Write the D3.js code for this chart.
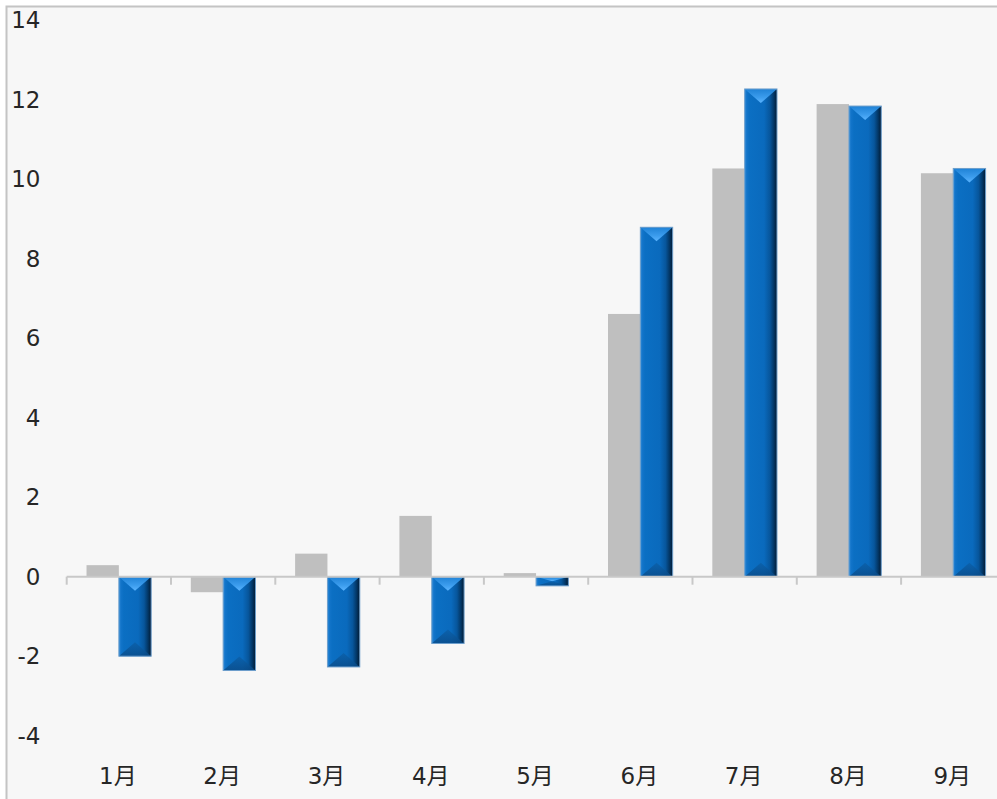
<!DOCTYPE html>
<html>
<head>
<meta charset="utf-8">
<script src="https://cdn.jsdelivr.net/npm/d3@7/dist/d3.min.js"></script>
<style>
  html, body { margin: 0; padding: 0; background: #ffffff; }
  svg { display: block; }
</style>
</head>
<body>
<div id="chart"></div>
<script>
// Monthly values for two series
const months = ["1月", "2月", "3月", "4月", "5月", "6月", "7月", "8月", "9月"];
const seriesGray = [0.29, -0.39, 0.58, 1.53, 0.09, 6.61, 10.27, 11.89, 10.15];
const seriesBlue = [-2.0, -2.36, -2.27, -1.68, -0.23, 8.79, 12.27, 11.84, 10.27];
const yTicks = [-4, -2, 0, 2, 4, 6, 8, 10, 12, 14];

const W = 997, H = 799;
const svg = d3.select("#chart").append("svg")
  .attr("width", W).attr("height", H);

// Chart frame (extends past the right and bottom edges)
svg.append("rect")
  .attr("x", 6.5).attr("y", 6.5)
  .attr("width", W + 20).attr("height", H + 20)
  .attr("fill", "#f7f7f7")
  .attr("stroke", "#c4c4c4")
  .attr("stroke-width", 2);

const y = d3.scaleLinear().domain([-4, 14]).range([735.7, 20.2]);
const x = d3.scaleBand().domain(months).range([66.7, 1005.4]).padding(0);

const bw = x.bandwidth();
const barW = bw * 0.31;
const groupOff = (bw - 2 * barW) / 2;

// Gradients for the bevelled blue bars
const defs = svg.append("defs");
const body = defs.append("linearGradient").attr("id", "blueBody")
  .attr("x1", 0).attr("x2", 1).attr("y1", 0).attr("y2", 0);
[[0, "#2f8ad8"], [0.07, "#1274c9"], [0.15, "#0b6fc3"], [0.6, "#0a6abd"],
 [0.78, "#07569c"], [0.9, "#033766"], [1, "#011a33"]]
  .forEach(([o, c]) => body.append("stop").attr("offset", o).attr("stop-color", c));

const topBev = defs.append("linearGradient").attr("id", "blueTop")
  .attr("x1", 0).attr("x2", 0).attr("y1", 0).attr("y2", 1);
[[0, "#1f82d6"], [0.6, "#3b9ced"], [1, "#5ab4ff"]]
  .forEach(([o, c]) => topBev.append("stop").attr("offset", o).attr("stop-color", c));

const botBev = defs.append("linearGradient").attr("id", "blueBot")
  .attr("x1", 0).attr("x2", 0).attr("y1", 0).attr("y2", 1);
[[0, "#0b5fa8"], [1, "#0a4a86"]]
  .forEach(([o, c]) => botBev.append("stop").attr("offset", o).attr("stop-color", c));

// Gray series
svg.append("g").selectAll("rect")
  .data(months.map((m, i) => ({ m, v: seriesGray[i] })))
  .join("rect")
  .attr("x", d => x(d.m) + groupOff)
  .attr("y", d => y(Math.max(0, d.v)))
  .attr("width", barW)
  .attr("height", d => Math.abs(y(d.v) - y(0)))
  .attr("fill", "#bfbfbf");

// Blue series with bevel
const blue = svg.append("g").selectAll("g")
  .data(months.map((m, i) => ({ m, v: seriesBlue[i] })))
  .join("g");

blue.each(function (d) {
  const g = d3.select(this);
  const x0 = x(d.m) + groupOff + barW;
  const x1 = x0 + barW;
  const xc = (x0 + x1) / 2;
  const yt = y(Math.max(0, d.v));
  const yb = y(Math.min(0, d.v));
  const h = yb - yt;
  const depth = Math.min(14, h / 2);
  g.append("rect")
    .attr("x", x0).attr("y", yt)
    .attr("width", barW).attr("height", h)
    .attr("fill", "url(#blueBody)");
  g.append("path")
    .attr("d", `M${x0},${yt}L${x1},${yt}L${xc},${yt + depth}Z`)
    .attr("fill", "url(#blueTop)");
  g.append("path")
    .attr("d", `M${x0},${yb}L${x1},${yb}L${xc},${yb - depth}Z`)
    .attr("fill", "url(#blueBot)")
    .attr("opacity", 0.8);
  g.append("rect")
    .attr("x", x0).attr("y", yt)
    .attr("width", barW).attr("height", h)
    .attr("fill", "none")
    .attr("stroke", "#6e9fcc")
    .attr("stroke-width", 1);
});

// Zero line with category tick marks
const zero = y(0);
svg.append("line")
  .attr("x1", x.range()[0]).attr("x2", W)
  .attr("y1", zero).attr("y2", zero)
  .attr("stroke", "#c8c8c8").attr("stroke-width", 2);
svg.append("g").selectAll("line")
  .data(months.map(m => x(m)))
  .join("line")
  .attr("x1", d => d).attr("x2", d => d)
  .attr("y1", zero).attr("y2", zero + 8)
  .attr("stroke", "#c8c8c8").attr("stroke-width", 2);

// Y tick labels
svg.append("g").selectAll("text")
  .data(yTicks)
  .join("text")
  .attr("x", 40.5)
  .attr("y", d => y(d))
  .attr("text-anchor", "end")
  .attr("dominant-baseline", "central")
  .attr("font-family", "'DejaVu Sans', 'Noto Sans CJK JP', sans-serif")
  .attr("font-size", 23)
  .attr("fill", "#262626")
  .text(d => d);

// Month labels
svg.append("g").selectAll("text")
  .data(months)
  .join("text")
  .attr("x", d => x(d) + bw / 2 - 1)
  .attr("y", 784)
  .attr("text-anchor", "middle")
  .attr("font-family", "'DejaVu Sans', 'Noto Sans CJK JP', sans-serif")
  .attr("font-size", 23)
  .attr("fill", "#262626")
  .text(d => d);
</script>
</body>
</html>
